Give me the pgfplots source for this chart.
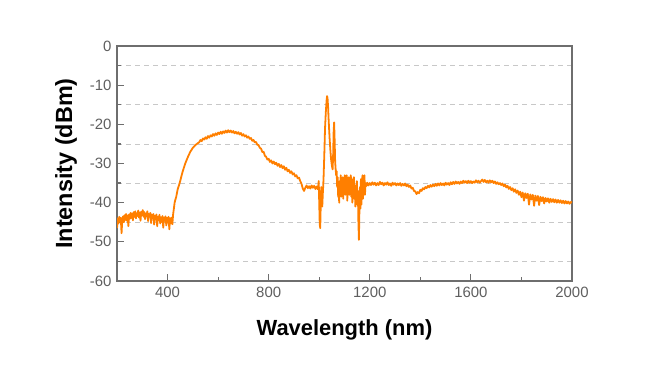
\documentclass[border=0pt]{standalone}
\usepackage{fontspec}
\setmainfont{Liberation Sans}
\usepackage{pgfplots}
\pgfplotsset{compat=1.18}
\definecolor{spec}{RGB}{255,127,0}
\definecolor{framec}{RGB}{110,110,110}
\definecolor{tickc}{RGB}{95,95,95}
\definecolor{gridc}{RGB}{200,200,200}
\begin{document}
\begin{tikzpicture}
\path[use as bounding box] (-117bp,-109bp) rectangle (533bp,281bp);
\begin{axis}[
  at={(0,0)}, anchor=south west,
  scale only axis, width=455bp, height=235bp,
  xmin=200, xmax=2000, ymin=-60, ymax=0,
  xtick={400,800,1200,1600,2000},
  minor xtick={600,1000,1400,1800},
  ytick={-60,-50,-40,-30,-20,-10,0},
  minor ytick={-55,-45,-35,-25,-15,-5},
  yminorgrids=true,
  minor grid style={gridc, dashed, dash pattern=on 5bp off 4bp, line width=0.7pt},
  axis line style={framec, line width=1.7pt},
  tick style={framec, line width=1.2pt},
  major tick length=7bp, minor tick length=4bp,
  tick align=inside,
  xtick pos=bottom, ytick pos=left,
  /pgf/number format/assume math mode=true,
  /pgf/number format/1000 sep={},
  tick label style={font=\fontsize{15}{17}\selectfont, text=tickc},
  xticklabel style={yshift=-3bp},
  yticklabel style={xshift=-2bp},
  xlabel={Wavelength (nm)},
  ylabel={Intensity (dBm)},
  xlabel style={font=\fontsize{22}{26}\selectfont\bfseries, text=black, at={(axis description cs:0.5,-0.21)}, anchor=center},
  ylabel style={font=\fontsize{23.5}{28}\selectfont\bfseries, text=black, at={(axis description cs:-0.112,0.5)}, anchor=center},
  clip=true,
]
\addplot[spec, line width=1.8pt, line join=round] coordinates {
(200,-46.5) (203,-44.0) (206,-45.3) (209,-43.6) (212,-44.8) (215,-43.9) (218,-47.8) (221,-44.2) (224,-43.5) (227,-45.0)
(230,-43.2) (233,-44.4) (236,-42.9) (239,-44.6) (242,-43.3) (245,-46.0) (248,-43.0) (251,-44.1) (254,-42.6) (257,-43.9)
(260,-42.8) (263,-44.5) (266,-42.4) (269,-43.6) (272,-42.2) (275,-44.0) (278,-42.7) (281,-43.4) (284,-42.0) (287,-43.8)
(290,-42.5) (293,-44.6) (296,-42.3) (299,-43.2) (302,-41.9) (305,-43.6) (308,-42.4) (311,-44.2) (314,-42.8) (317,-43.5)
(320,-42.2) (323,-44.7) (326,-42.9) (329,-43.6) (332,-42.6) (335,-45.2) (338,-43.1) (341,-44.0) (344,-42.9) (347,-45.6)
(350,-43.4) (353,-44.2) (356,-43.0) (359,-46.0) (362,-43.6) (365,-44.5) (368,-43.1) (371,-45.3) (374,-43.7) (377,-44.9)
(380,-43.4) (383,-46.4) (386,-43.8) (389,-44.6) (392,-43.5) (395,-45.8) (398,-43.9) (401,-45.1) (404,-43.6) (407,-46.8)
(410,-44.0) (413,-45.2) (416,-43.8) (419,-45.5) (422,-43.0) (425,-41.5) (428,-40.0) (431,-39.2) (434,-38.6) (437,-37.6)
(440,-36.6) (445,-35.6) (450,-34.5) (455,-33.2) (460,-32.0) (465,-31.0) (470,-30.0) (475,-29.2) (480,-28.4) (485,-27.7)
(490,-27.0) (495,-26.5) (500,-26.0) (510,-25.3) (520,-24.8) (525,-24.6) (530,-24.0) (535,-24.3) (540,-23.6) (545,-23.9)
(550,-23.3) (555,-23.7) (560,-23.0) (565,-23.4) (570,-22.8) (575,-23.1) (580,-22.5) (585,-22.9) (590,-22.3) (595,-22.7)
(600,-22.1) (605,-22.5) (610,-21.9) (615,-22.4) (620,-21.8) (625,-22.2) (630,-21.6) (635,-22.1) (640,-21.5) (645,-22.0)
(650,-21.6) (655,-22.1) (660,-21.7) (665,-22.3) (670,-21.9) (675,-22.4) (680,-22.0) (685,-22.6) (690,-22.2) (695,-22.9)
(700,-22.5) (705,-23.1) (710,-22.8) (715,-23.4) (720,-23.1) (725,-23.7) (730,-23.5) (735,-24.2) (740,-24.0) (745,-24.6)
(750,-24.5) (755,-25.2) (760,-25.3) (765,-26.0) (770,-26.2) (775,-27.1) (780,-27.0) (785,-28.0) (790,-28.3) (795,-29.0)
(800,-28.8) (805,-29.6) (810,-29.2) (815,-30.0) (820,-29.5) (825,-30.2) (830,-29.8) (835,-30.6) (840,-30.1) (845,-30.9)
(850,-30.4) (855,-31.2) (860,-30.7) (865,-31.6) (870,-31.1) (875,-32.0) (880,-31.6) (885,-32.4) (890,-32.0) (895,-32.8)
(900,-32.5) (905,-33.3) (910,-33.0) (915,-33.8) (920,-33.6) (925,-34.5) (930,-35.2) (935,-36.4) (940,-37.0) (945,-36.2)
(950,-35.6) (955,-36.3) (960,-35.8) (965,-36.4) (970,-35.6) (975,-36.2) (980,-35.7) (985,-36.5) (990,-35.9) (995,-36.6)
(998,-34.5) (1000,-40.0) (1002,-45.5) (1004,-46.5) (1006,-40.5) (1008,-36.0) (1010,-37.5) (1012,-41.0) (1014,-38.0) (1017,-34.0)
(1020,-28.0) (1023,-21.0) (1026,-17.0) (1029,-14.0) (1031,-12.8) (1033,-13.4) (1035,-15.5) (1037,-18.5) (1039,-21.0) (1041,-23.5)
(1044,-26.5) (1047,-29.0) (1050,-30.5) (1053,-31.5) (1055,-28.0) (1057,-22.0) (1059,-19.5) (1061,-24.0) (1063,-29.5) (1065,-31.5)
(1067,-33.0) (1069,-32.0) (1071,-36.0) (1073,-33.5) (1075,-38.5) (1077,-35.0) (1079,-40.0) (1081,-34.5) (1083,-37.0) (1085,-33.0)
(1087,-38.5) (1089,-34.0) (1091,-36.5) (1093,-33.5) (1095,-39.0) (1097,-35.0) (1099,-37.0) (1101,-33.0) (1103,-38.0) (1105,-34.5)
(1107,-36.5) (1109,-33.0) (1111,-39.5) (1113,-35.0) (1115,-37.5) (1117,-33.5) (1119,-38.0) (1121,-34.0) (1123,-36.0) (1125,-33.0)
(1127,-38.5) (1129,-35.0) (1131,-40.0) (1133,-34.0) (1135,-37.0) (1137,-33.5) (1139,-39.0) (1141,-35.5) (1143,-41.0) (1145,-36.0)
(1147,-38.5) (1149,-34.5) (1151,-40.5) (1153,-37.0) (1155,-45.0) (1157,-49.5) (1159,-42.0) (1161,-36.0) (1163,-41.5) (1165,-34.0)
(1167,-40.5) (1169,-36.5) (1171,-33.0) (1173,-39.0) (1175,-34.5) (1177,-37.0) (1179,-33.0) (1181,-38.0) (1183,-35.0) (1186,-35.8)
(1190,-34.9) (1195,-35.6)
(1200,-35.0) (1205,-35.5) (1210,-34.8) (1215,-35.4) (1220,-34.9) (1225,-35.6) (1230,-35.0) (1235,-35.5) (1240,-34.7) (1245,-35.3)
(1250,-34.9) (1255,-35.6) (1260,-35.0) (1265,-35.4) (1270,-34.8) (1275,-35.5) (1280,-35.1) (1285,-35.7) (1290,-34.9) (1295,-35.4)
(1300,-35.0) (1305,-35.6) (1310,-35.1) (1315,-35.5) (1320,-35.0) (1325,-35.7) (1330,-35.2) (1335,-35.6) (1340,-35.1) (1345,-35.8)
(1350,-35.4) (1355,-36.0) (1360,-35.6) (1365,-36.4) (1370,-36.2) (1375,-37.0) (1380,-37.1) (1385,-37.8) (1390,-37.3) (1395,-37.6)
(1400,-36.7) (1405,-37.0) (1410,-36.3) (1415,-36.6) (1420,-36.0) (1425,-36.3) (1430,-35.7) (1435,-36.1) (1440,-35.5) (1445,-35.9)
(1450,-35.4) (1455,-35.8) (1460,-35.2) (1465,-35.7) (1470,-35.1) (1475,-35.6) (1480,-35.0) (1485,-35.5) (1490,-35.1) (1495,-35.6)
(1500,-34.9) (1505,-35.4) (1510,-35.0) (1515,-35.5) (1520,-34.8) (1525,-35.3) (1530,-34.7) (1535,-35.2) (1540,-34.6) (1545,-35.1)
(1550,-34.7) (1555,-35.2) (1560,-34.6) (1565,-35.0) (1570,-34.4) (1575,-34.9) (1580,-34.5) (1585,-35.0) (1590,-34.4) (1595,-34.9)
(1600,-34.5) (1605,-35.0) (1610,-34.6) (1615,-34.9) (1620,-34.3) (1625,-34.8) (1630,-34.4) (1635,-34.9) (1640,-34.5) (1645,-34.1)
(1650,-34.7) (1655,-34.2) (1660,-34.8) (1665,-34.4) (1670,-34.9) (1675,-34.3) (1680,-34.8) (1685,-34.4) (1690,-35.0) (1695,-34.6)
(1700,-35.2) (1705,-34.8) (1710,-35.3) (1715,-35.0) (1720,-35.5) (1725,-35.1) (1730,-35.8) (1735,-35.4) (1740,-36.1) (1745,-35.7)
(1750,-36.5) (1755,-36.0) (1760,-36.8) (1765,-36.3) (1770,-37.2) (1775,-36.6) (1780,-37.5) (1785,-36.9) (1790,-38.0) (1795,-37.2)
(1800,-38.6) (1805,-37.4) (1810,-39.5) (1815,-37.6) (1820,-38.8) (1825,-37.7) (1830,-40.5) (1835,-37.9) (1840,-39.2) (1845,-38.0)
(1850,-40.8) (1855,-38.2) (1860,-39.5) (1865,-38.3) (1870,-40.6) (1875,-38.5) (1880,-39.6) (1885,-38.6) (1890,-40.2) (1895,-38.8)
(1900,-39.7) (1905,-38.9) (1910,-40.0) (1915,-39.0) (1920,-39.8) (1925,-39.1) (1930,-39.9) (1935,-39.2) (1940,-40.0) (1945,-39.3)
(1950,-40.0) (1955,-39.4) (1960,-40.1) (1965,-39.5) (1970,-40.2) (1975,-39.6) (1980,-40.2) (1985,-39.7) (1990,-40.3) (1995,-39.8)
(2000,-40.0)
};
\end{axis}
\end{tikzpicture}
\end{document}
